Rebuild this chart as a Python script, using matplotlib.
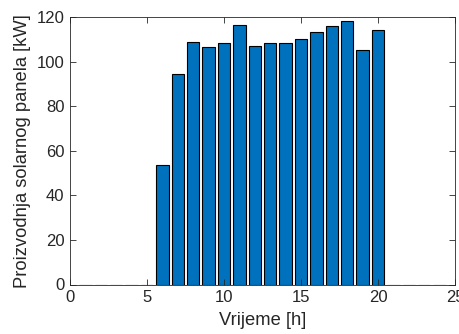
import matplotlib
matplotlib.use("Agg")
import matplotlib.pyplot as plt

# hourly solar panel output
hours = list(range(1, 25))
power_kw = [0, 0, 0, 0, 0, 53.4, 94.3, 108.8, 106.4, 108.5, 116.3, 107.2,
            108.2, 108.2, 110.2, 113.3, 115.9, 118.1, 105.1, 114.2, 0, 0, 0, 0]
x_ticks = [0, 5, 10, 15, 20, 25]
y_ticks = [0, 20, 40, 60, 80, 100, 120]

plt.rcParams['font.family'] = ['Liberation Sans', 'DejaVu Sans']
plt.rcParams['font.size'] = 12

fig = plt.figure(figsize=(4.59, 3.34), dpi=100)
ax = fig.add_axes([70 / 459, 1 - 284.5 / 334, 385 / 459, 267.5 / 334])

ax.bar(hours, power_kw, width=0.8, color='#0072BD', edgecolor='black', linewidth=0.8)

ax.set_xlim(0, 25)
ax.set_ylim(0, 120)
ax.set_xticks(x_ticks)
ax.set_yticks(y_ticks)
ax.tick_params(direction='in', top=True, right=True, length=4, width=0.6,
               colors='#262626', labelcolor='#262626', pad=4)
for s in ax.spines.values():
    s.set_color('#262626')
    s.set_linewidth(0.6)

ax.set_xlabel('Vrijeme [h]', color='#262626', fontsize=13.2, labelpad=5)
ax.set_ylabel('Proizvodnja solarnog panela [kW]', color='#262626', fontsize=13.2, labelpad=4)

fig.savefig('out.png', dpi=100)
